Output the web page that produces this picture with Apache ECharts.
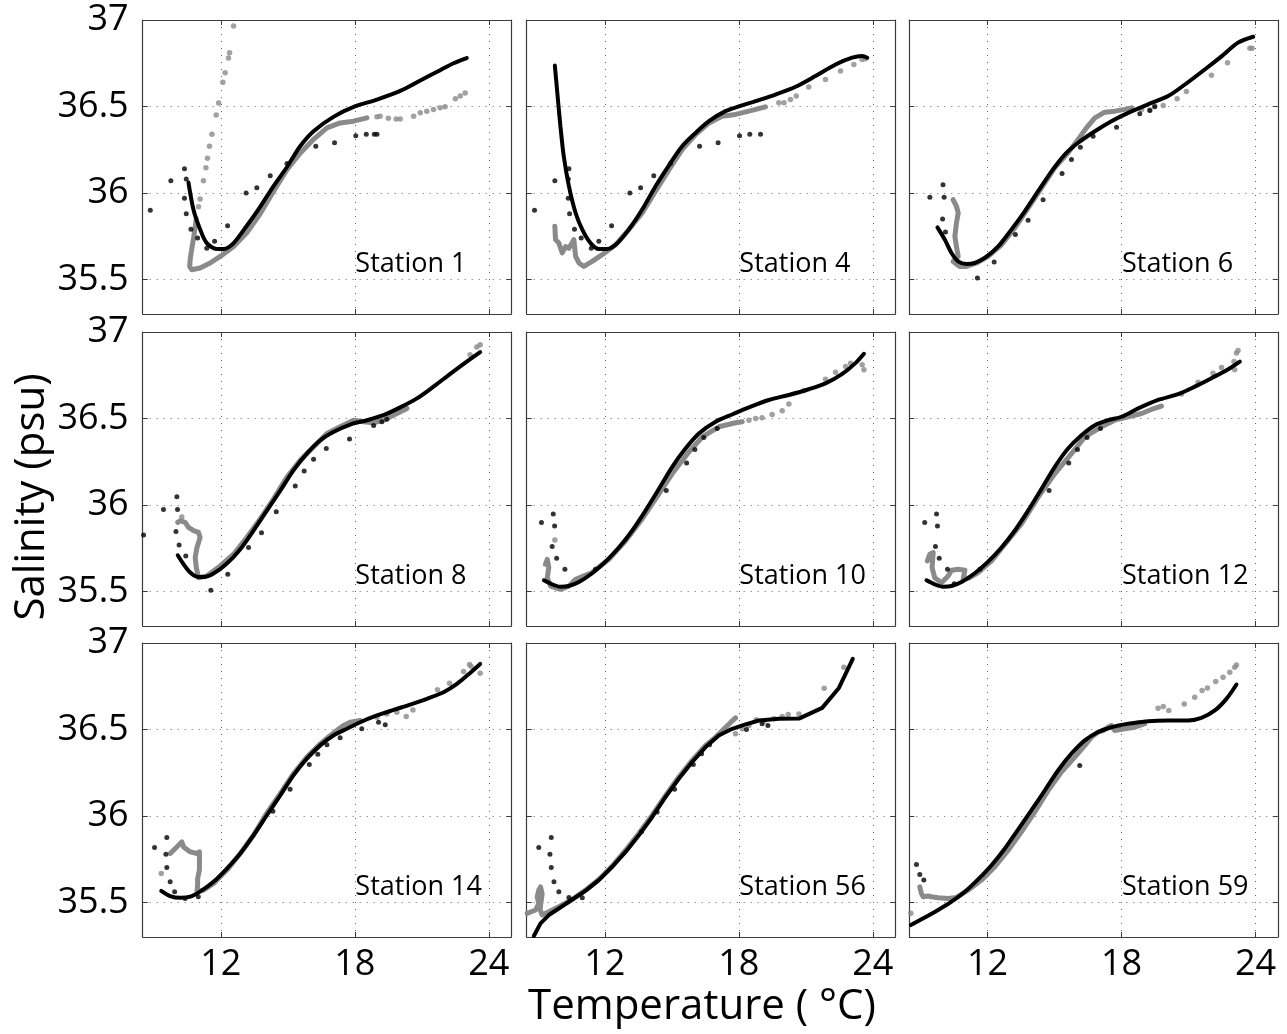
<!DOCTYPE html>
<html>
<head>
<meta charset="utf-8">
<title>T-S diagrams</title>
<script src="https://cdn.jsdelivr.net/npm/echarts@6.0.0/dist/echarts.min.js"></script>
<style>
  html, body { margin: 0; padding: 0; background: #fff; }
  #chart { width: 1287px; height: 1034px; }
</style>
</head>
<body>
<div id="chart"></div>
<script>
// panel titles, row by row
const stationNames = ['Station 1', 'Station 4', 'Station 6', 'Station 8', 'Station 10', 'Station 12', 'Station 14', 'Station 56', 'Station 59']
const xTicks = [12, 18, 24]
const yTicks = [35.5, 36, 36.5, 37]

// [temperature, salinity]
// fit = black curve, trace = dense grey profile, grey = loose grey dots, ctd = black dots
const st1Fit = [[10.55,36.06],[10.78,35.90],[11.07,35.79],[11.37,35.71],[11.82,35.676],[12.12,35.676],[12.57,35.71],[13.16,35.81],[13.76,35.92],[14.36,36.04],[14.96,36.15],[15.55,36.27],[16.15,36.357],[17.04,36.44],[18.0,36.50],[18.99,36.54],[20.03,36.59],[20.93,36.65],[21.82,36.71],[22.42,36.75],[23.01,36.78]]
const st1Trace = [[10.90,35.85],[10.78,35.74],[10.70,35.68],[10.63,35.62],[10.60,35.575],[10.70,35.556],[11.07,35.566],[11.52,35.595],[11.97,35.633],[12.57,35.69],[13.16,35.77],[13.76,35.88],[14.36,36.01],[14.96,36.135],[15.55,36.23],[16.15,36.31],[16.75,36.376],[17.34,36.405],[17.94,36.415],[18.54,36.434]]
const st1Grey = [[11.0,35.92],[11.07,35.965],[11.22,36.07],[11.33,36.145],[11.40,36.20],[11.49,36.27],[11.60,36.34],[11.79,36.45],[11.90,36.52],[12.09,36.64],[12.19,36.695],[12.34,36.78],[12.39,36.81],[12.57,36.965],[18.99,36.44],[19.13,36.444],[19.50,36.432],[19.85,36.428],[20.03,36.428],[20.63,36.444],[20.93,36.463],[21.22,36.473],[21.52,36.483],[21.82,36.492],[22.04,36.498],[22.50,36.544],[22.72,36.56],[22.94,36.578]]
const st1Ctd = [[8.84,35.90],[9.76,36.07],[10.37,36.14],[10.45,36.08],[10.37,35.97],[10.45,35.88],[10.66,35.79],[10.96,35.74],[11.37,35.68],[11.72,35.72],[12.30,35.81],[13.13,36.0],[13.61,36.03],[14.21,36.10],[14.96,36.17],[16.25,36.27],[17.09,36.29],[18.04,36.33],[18.51,36.34],[18.87,36.34],[18.99,36.34]]

const st4Fit = [[9.76,36.737],[9.87,36.58],[10.01,36.386],[10.16,36.212],[10.39,36.039],[10.69,35.884],[10.99,35.788],[11.36,35.71],[11.73,35.676],[12.10,35.676],[12.48,35.70],[13.07,35.788],[13.67,35.904],[14.27,36.039],[14.87,36.16],[15.46,36.27],[16.06,36.347],[16.66,36.415],[17.40,36.473],[18.0,36.50],[18.75,36.531],[19.64,36.569],[20.54,36.614],[21.43,36.676],[22.33,36.743],[23.07,36.782],[23.52,36.792],[23.75,36.782]]
const st4Trace = [[9.76,35.807],[9.79,35.73],[9.94,35.71],[10.09,35.653],[10.24,35.69],[10.39,35.68],[10.61,35.73],[10.69,35.633],[10.84,35.595],[11.06,35.575],[11.43,35.604],[11.88,35.643],[12.48,35.70],[13.07,35.788],[13.67,35.884],[14.27,36.01],[14.87,36.135],[15.46,36.25],[16.06,36.338],[16.66,36.405],[17.25,36.444],[17.85,36.454],[18.45,36.473],[19.19,36.498]]
const st4Grey = [[19.79,36.521],[20.02,36.521],[20.31,36.541],[20.57,36.56],[21.13,36.612],[21.88,36.656],[22.55,36.705],[23.15,36.743],[23.52,36.772],[23.67,36.776]]
const st4Ctd = [[8.85,35.90],[9.76,36.07],[10.39,36.14],[10.36,36.08],[10.36,35.97],[10.42,35.88],[10.64,35.79],[10.94,35.74],[11.39,35.68],[11.73,35.72],[12.30,35.81],[13.12,36.0],[13.60,36.03],[14.19,36.10],[14.94,36.17],[16.24,36.27],[17.07,36.29],[18.03,36.33],[18.49,36.34],[18.97,36.34]]

const st6Fit = [[9.76,35.801],[10.09,35.73],[10.39,35.653],[10.69,35.604],[11.06,35.589],[11.43,35.595],[11.88,35.624],[12.48,35.691],[13.07,35.788],[13.67,35.894],[14.27,36.01],[14.87,36.125],[15.46,36.222],[16.06,36.29],[16.81,36.357],[17.55,36.415],[18.30,36.463],[19.19,36.512],[20.09,36.56],[20.84,36.627],[21.73,36.714],[22.48,36.79],[23.22,36.869],[23.90,36.903]]
const st6Trace = [[10.46,35.961],[10.61,35.923],[10.69,35.884],[10.61,35.826],[10.54,35.749],[10.61,35.691],[10.69,35.633],[10.46,35.604],[10.76,35.575],[11.06,35.575],[11.51,35.595],[12.03,35.633],[12.63,35.70],[13.22,35.797],[13.82,35.913],[14.42,36.029],[15.01,36.145],[15.61,36.232],[16.06,36.309],[16.43,36.376],[16.81,36.434],[17.25,36.467],[17.70,36.473],[18.15,36.483],[18.45,36.492]]
const st6Grey = [[18.90,36.483],[19.27,36.479],[19.49,36.502],[19.87,36.506],[20.49,36.544],[20.91,36.587],[22.03,36.68],[22.75,36.753],[23.75,36.836],[23.85,36.836]]
const st6Ctd = [[8.49,35.826],[9.42,35.975],[10.01,36.048],[10.06,35.975],[9.99,35.849],[10.12,35.774],[11.55,35.508],[12.30,35.60],[13.25,35.759],[13.82,35.842],[14.49,35.961],[15.34,36.112],[15.76,36.193],[16.16,36.264],[16.73,36.328],[17.78,36.38],[18.82,36.458],[19.27,36.477],[19.49,36.498]]

const st8Fit = [[10.07,35.709],[10.33,35.657],[10.63,35.609],[10.93,35.585],[11.22,35.583],[11.67,35.603],[12.27,35.661],[12.87,35.744],[13.46,35.851],[14.06,35.967],[14.66,36.083],[15.25,36.20],[15.85,36.297],[16.45,36.374],[17.04,36.422],[17.79,36.465],[18.54,36.49],[19.28,36.519],[20.03,36.564],[20.78,36.616],[21.52,36.684],[22.27,36.758],[23.01,36.829],[23.61,36.884]]
const st8Trace = [[10.07,35.899],[10.18,35.909],[10.40,35.899],[10.55,35.87],[10.78,35.851],[11.0,35.841],[11.07,35.812],[10.93,35.754],[10.85,35.696],[10.90,35.638],[11.0,35.579],[11.37,35.589],[11.97,35.647],[12.57,35.715],[13.16,35.812],[13.76,35.919],[14.36,36.035],[14.96,36.161],[15.55,36.258],[16.15,36.335],[16.75,36.413],[17.34,36.452],[17.94,36.49],[18.39,36.481],[18.84,36.475],[19.28,36.49],[19.88,36.529],[20.33,36.558]]
const st8Grey = [[10.25,35.93],[23.16,36.868],[23.46,36.913],[23.61,36.926]]
const st8Ctd = [[8.54,35.826],[9.43,35.973],[10.03,36.048],[10.06,35.973],[9.99,35.847],[10.13,35.769],[10.43,35.705],[11.55,35.506],[12.31,35.599],[13.24,35.754],[13.82,35.839],[14.48,35.961],[15.33,36.11],[15.73,36.196],[16.15,36.264],[16.72,36.326],[17.76,36.382],[18.84,36.459],[19.21,36.481],[19.43,36.496]]

const st10Fit = [[9.27,35.564],[9.64,35.541],[10.01,35.527],[10.39,35.531],[10.84,35.554],[11.43,35.605],[12.03,35.672],[12.63,35.754],[13.22,35.851],[13.82,35.967],[14.42,36.093],[15.01,36.219],[15.61,36.326],[16.21,36.413],[16.96,36.481],[17.70,36.523],[18.45,36.564],[19.34,36.607],[20.24,36.636],[21.13,36.669],[21.88,36.703],[22.63,36.758],[23.22,36.82],[23.60,36.874]]
const st10Trace = [[9.34,35.657],[9.42,35.686],[9.49,35.638],[9.42,35.579],[9.57,35.531],[10.01,35.512],[10.39,35.531],[10.69,35.57],[11.43,35.609],[12.18,35.686],[12.93,35.793],[13.67,35.919],[14.42,36.064],[15.01,36.18],[15.76,36.306],[16.36,36.393],[17.10,36.452],[17.85,36.475],[18.15,36.481]]
const st10Grey = [[9.76,35.797],[18.45,36.49],[18.75,36.50],[19.04,36.504],[19.49,36.523],[19.94,36.545],[20.24,36.583],[20.91,36.661],[21.88,36.727],[22.33,36.767],[22.78,36.80],[23.0,36.82],[23.52,36.81],[23.60,36.781]]
const st10Ctd = [[9.16,35.899],[9.69,35.948],[9.75,35.878],[9.64,35.76],[9.84,35.692],[10.21,35.628],[11.58,35.628],[14.75,36.083],[15.66,36.242],[16.03,36.32],[16.43,36.39],[17.03,36.442]]

const st12Fit = [[9.27,35.564],[9.64,35.541],[10.01,35.527],[10.39,35.531],[10.84,35.554],[11.43,35.605],[12.03,35.672],[12.63,35.754],[13.22,35.851],[13.82,35.967],[14.42,36.093],[15.01,36.219],[15.61,36.326],[16.21,36.403],[16.81,36.461],[17.40,36.49],[18.0,36.51],[18.75,36.558],[19.64,36.607],[20.54,36.641],[21.28,36.684],[22.03,36.733],[22.78,36.785],[23.30,36.829]]
const st12Trace = [[9.31,35.676],[9.42,35.715],[9.57,35.725],[9.52,35.638],[9.64,35.579],[9.94,35.55],[10.24,35.589],[10.39,35.622],[10.69,35.628],[10.99,35.622],[10.91,35.57],[11.21,35.579],[11.58,35.609],[12.18,35.676],[12.78,35.773],[13.52,35.89],[14.27,36.045],[15.01,36.18],[15.76,36.297],[16.36,36.393],[17.10,36.452],[17.70,36.49],[18.30,36.51],[18.90,36.529],[19.34,36.552],[19.79,36.572]]
const st12Grey = [[20.69,36.641],[21.43,36.709],[22.10,36.762],[22.48,36.795],[23.04,36.829],[23.07,36.781],[23.15,36.878],[23.22,36.893]]
const st12Ctd = [[9.19,35.899],[9.72,35.948],[9.76,35.878],[9.67,35.76],[9.84,35.692],[10.21,35.628],[10.51,35.545],[11.66,35.628],[14.76,36.083],[15.64,36.242],[16.03,36.32],[16.46,36.39],[17.06,36.442]]

const st14Fit = [[9.33,35.567],[9.73,35.537],[10.18,35.527],[10.63,35.533],[11.07,35.562],[11.67,35.619],[12.27,35.696],[12.87,35.783],[13.46,35.888],[14.06,36.004],[14.66,36.119],[15.25,36.235],[15.85,36.331],[16.45,36.408],[17.04,36.465],[17.64,36.504],[18.24,36.542],[18.99,36.581],[19.73,36.613],[20.48,36.644],[21.22,36.677],[21.97,36.715],[22.57,36.763],[23.16,36.827],[23.61,36.879]]
const st14Trace = [[9.73,35.783],[9.96,35.812],[10.25,35.85],[10.33,35.821],[10.63,35.792],[10.93,35.783],[11.04,35.792],[11.04,35.687],[10.96,35.638],[10.96,35.60],[10.93,35.562],[11.22,35.571],[11.67,35.61],[12.27,35.687],[12.87,35.783],[13.46,35.888],[14.06,36.017],[14.66,36.129],[15.25,36.244],[15.85,36.34],[16.45,36.417],[16.90,36.465],[17.19,36.494],[17.49,36.523],[17.79,36.542],[18.24,36.552]]
const st14Grey = [[9.33,35.667],[18.99,36.571],[19.43,36.59],[19.88,36.60],[20.30,36.575],[20.60,36.613],[21.70,36.729],[22.24,36.767],[22.87,36.835],[23.13,36.875],[23.20,36.865],[23.61,36.825]]
const st14Ctd = [[9.03,35.817],[9.58,35.875],[9.54,35.779],[9.58,35.702],[9.73,35.619],[9.93,35.562],[10.40,35.523],[10.99,35.533],[14.33,36.027],[15.10,36.154],[15.96,36.298],[16.34,36.356],[16.75,36.412],[17.34,36.452],[18.31,36.504],[19.06,36.542],[19.36,36.527]]

const st56Fit = [[8.82,35.306],[9.12,35.379],[9.49,35.427],[9.94,35.465],[10.54,35.517],[11.13,35.567],[11.73,35.629],[12.33,35.706],[12.93,35.792],[13.52,35.888],[14.12,35.994],[14.72,36.11],[15.31,36.215],[15.91,36.312],[16.51,36.398],[17.10,36.465],[17.70,36.504],[18.30,36.529],[18.90,36.552],[19.79,36.562],[20.69,36.563],[21.73,36.625],[22.48,36.74],[22.78,36.821],[23.10,36.908]]
const st56Trace = [[8.52,35.437],[8.90,35.456],[9.04,35.494],[8.97,35.533],[9.04,35.571],[9.12,35.59],[9.19,35.55],[9.10,35.46],[9.19,35.427],[9.49,35.446],[9.94,35.475],[10.54,35.517],[11.13,35.571],[11.73,35.633],[12.33,35.71],[12.93,35.802],[13.52,35.898],[14.12,36.004],[14.72,36.119],[15.31,36.225],[15.91,36.321],[16.51,36.408],[16.96,36.456],[17.34,36.504],[17.64,36.542],[17.85,36.567]]
const st56Grey = [[17.85,36.475],[18.15,36.504],[18.45,36.523],[18.78,36.556],[19.12,36.548],[19.57,36.562],[19.94,36.575],[20.21,36.587],[20.69,36.59],[21.82,36.738],[22.70,36.86]]
const st56Ctd = [[9.04,35.817],[9.60,35.875],[9.54,35.779],[9.60,35.702],[9.72,35.619],[9.94,35.562],[10.39,35.529],[10.99,35.527],[13.64,35.908],[14.34,36.023],[15.12,36.154],[15.96,36.298],[16.33,36.36],[16.69,36.412],[18.34,36.50],[19.04,36.533],[19.30,36.523]]

const st59Fit = [[8.57,35.369],[9.19,35.413],[9.79,35.456],[10.39,35.504],[10.99,35.562],[11.58,35.633],[12.18,35.715],[12.78,35.812],[13.37,35.921],[13.97,36.033],[14.57,36.148],[15.16,36.263],[15.76,36.36],[16.36,36.437],[16.96,36.485],[17.55,36.513],[18.30,36.533],[19.19,36.548],[20.09,36.552],[20.99,36.552],[21.58,36.567],[22.18,36.61],[22.70,36.677],[23.15,36.76]]
const st59Trace = [[8.97,35.59],[9.04,35.552],[9.12,35.533],[9.34,35.537],[9.49,35.533],[9.79,35.527],[10.24,35.523],[10.61,35.529],[11.13,35.571],[11.73,35.629],[12.33,35.706],[12.93,35.802],[13.52,35.908],[14.12,36.023],[14.72,36.148],[15.31,36.254],[15.91,36.34],[16.36,36.408],[16.66,36.456],[16.96,36.485],[17.19,36.494],[17.40,36.513],[17.55,36.523],[17.70,36.494],[18.15,36.504],[18.60,36.513],[19.04,36.533]]
const st59Grey = [[8.57,35.437],[19.64,36.623],[19.87,36.633],[20.12,36.61],[20.81,36.648],[21.28,36.687],[21.61,36.725],[21.85,36.74],[22.22,36.777],[22.55,36.802],[22.85,36.831],[23.07,36.86],[23.15,36.873]]
const st59Ctd = [[8.82,35.719],[8.97,35.662],[9.15,35.629],[16.13,36.292]]

const fits = [st1Fit, st4Fit, st6Fit, st8Fit, st10Fit, st12Fit, st14Fit, st56Fit, st59Fit]
const traces = [st1Trace, st4Trace, st6Trace, st8Trace, st10Trace, st12Trace, st14Trace, st56Trace, st59Trace]
const greys = [st1Grey, st4Grey, st6Grey, st8Grey, st10Grey, st12Grey, st14Grey, st56Grey, st59Grey]
const ctds = [st1Ctd, st4Ctd, st6Ctd, st8Ctd, st10Ctd, st12Ctd, st14Ctd, st56Ctd, st59Ctd]
// station 56's fit has visible kinks, keep it unsmoothed
const fitSmooth = [0.3, 0.3, 0.3, 0.3, 0.3, 0.3, 0.3, 0, 0.3]
const labelAt = [18, 35.585] // where the station text starts

const FONT = '"Open Sans", "Noto Sans", sans-serif'
const frameColor = '#3c3c3c'
const greyColor = '#8a8a8a'

const colLeft = [142.7, 526.7, 909.3]
const rowTop = [20, 332, 643]
const panelW = 368.5
const panelH = 294

const chart = echarts.init(document.getElementById('chart'), null, { renderer: 'canvas' })

const grids = [], xAxes = [], yAxes = [], series = []
for (let i = 0; i < 9; i++) {
  const row = Math.floor(i / 3), col = i % 3
  grids.push({ left: colLeft[col], top: rowTop[row], width: panelW, height: panelH, containLabel: false })

  const tickStyle = { show: true, inside: true, length: 5, lineStyle: { color: frameColor, width: 1 } }
  const lineStyle = { show: true, onZero: false, lineStyle: { color: frameColor, width: 1.2 } }
  // bottom x axis carries the dotted grid
  xAxes.push({
    type: 'value', gridIndex: i, position: 'bottom', min: 8.5, max: 25,
    axisLine: lineStyle,
    axisTick: Object.assign({ customValues: xTicks }, tickStyle),
    axisLabel: { show: row === 2, customValues: xTicks, fontSize: 36, fontFamily: FONT, color: '#000', margin: 10 },
    splitLine: { show: true, lineStyle: { color: '#666', width: 1, type: [1, 6] } }
  })
  // top x axis only for the box and ticks
  xAxes.push({
    type: 'value', gridIndex: i, position: 'top', min: 8.5, max: 25,
    axisLine: lineStyle,
    axisTick: Object.assign({ customValues: xTicks }, tickStyle),
    axisLabel: { show: false }, splitLine: { show: false }
  })
  yAxes.push({
    type: 'value', gridIndex: i, position: 'left', min: 35.3, max: 37,
    axisLine: lineStyle,
    axisTick: Object.assign({ customValues: yTicks }, tickStyle),
    axisLabel: { show: col === 0, customValues: yTicks, fontSize: 36, fontFamily: FONT, color: '#000', margin: 14 },
    splitLine: { show: true, lineStyle: { color: '#666', width: 1, type: [1, 6] } }
  })
  yAxes.push({
    type: 'value', gridIndex: i, position: 'right', min: 35.3, max: 37,
    axisLine: lineStyle,
    axisTick: Object.assign({ customValues: yTicks }, tickStyle),
    axisLabel: { show: false }, splitLine: { show: false }
  })

  const ax = { xAxisIndex: i * 2, yAxisIndex: i * 2 }
  series.push(Object.assign({
    type: 'line', data: traces[i], symbol: 'none', silent: true, z: 2,
    lineStyle: { color: greyColor, width: 5, cap: 'round', join: 'round' }
  }, ax))
  series.push(Object.assign({
    type: 'scatter', data: greys[i], symbolSize: 5.5, silent: true, z: 2,
    itemStyle: { color: greyColor }
  }, ax))
  series.push(Object.assign({
    type: 'scatter', data: ctds[i], symbolSize: 5, silent: true, z: 3,
    itemStyle: { color: '#000' }
  }, ax))
  series.push(Object.assign({
    type: 'line', data: fits[i], symbol: 'none', smooth: fitSmooth[i], silent: true, z: 4,
    lineStyle: { color: '#000', width: 4, cap: 'round' }
  }, ax))
  series.push(Object.assign({
    type: 'scatter', data: [labelAt], symbolSize: 1, silent: true, z: 5,
    itemStyle: { color: '#fff', opacity: 1 },
    label: {
      show: true, position: 'right', distance: 0, formatter: stationNames[i],
      fontSize: 27, fontFamily: FONT, color: '#000', opacity: 1
    }
  }, ax))
}

const option = {
  animation: false,
  backgroundColor: '#fff',
  grid: grids,
  xAxis: xAxes,
  yAxis: yAxes,
  series: series,
  graphic: [
    {
      type: 'text', x: 32, y: 497, rotation: Math.PI / 2,
      style: { text: 'Salinity (psu)', font: '42px ' + FONT, fill: '#000', textAlign: 'center', textVerticalAlign: 'middle' }
    },
    {
      type: 'text', x: 702, y: 1007,
      style: { text: 'Temperature ( °C)', font: '42px ' + FONT, fill: '#000', textAlign: 'center', textVerticalAlign: 'middle' }
    }
  ]
}
chart.setOption(option)
</script>
</body>
</html>
